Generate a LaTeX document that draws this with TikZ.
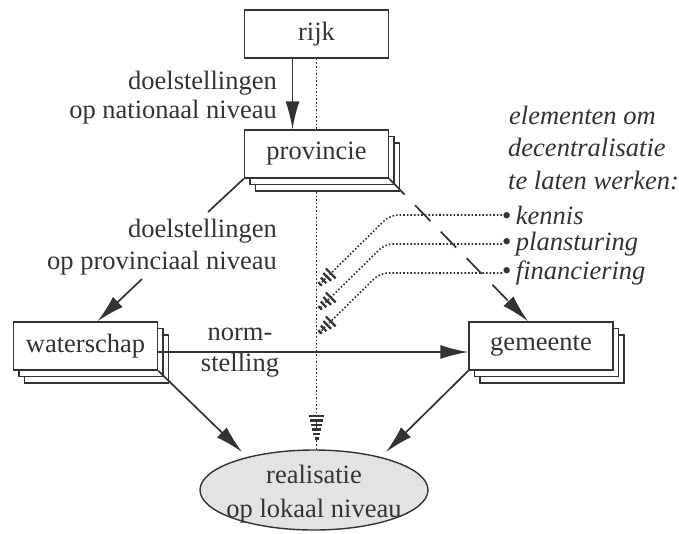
\documentclass[tikz,border=0pt]{standalone}
\usepackage{fontspec}
\setmainfont{Liberation Serif}
\usetikzlibrary{arrows.meta,calc,shadows,shapes.geometric,backgrounds}
\definecolor{ink}{HTML}{333333}
\newcommand\hatchhead[6]{%
  \foreach \k in {1,...,#3}{%
    \pgfmathsetmacro\hdist{#4*(\k-1)+1.5}%
    \pgfmathsetmacro\hwid{#5+#6*(\k-1)}%
    \path ($(#1)!\hdist pt!(#2)$) coordinate (hP);%
    \draw[hatch] ($(hP)!\hwid pt!90:(#2)$) -- ($(hP)!\hwid pt!-90:(#2)$);%
  }}
\begin{document}
\begin{tikzpicture}[x=1pt,y=-1pt,
  every node/.style={font=\fontsize{26.5}{30}\selectfont, text=ink, inner sep=0pt},
  box/.style={draw=ink, fill=white, line width=1.4pt, minimum width=144pt, minimum height=48pt},
  stack/.style={box,
    general shadow={draw=ink, fill=white, line width=1.4pt, shadow xshift=11pt, shadow yshift=-13pt},
    general shadow={draw=ink, fill=white, line width=1.4pt, shadow xshift=5.5pt, shadow yshift=-6.5pt}},
  conn/.style={draw=ink, line width=1.7pt},
  arr/.style={conn, -{Latex[length=28pt,width=14pt]}},
  dots/.style={draw=ink, line width=1.6pt, dotted},
  hatch/.style={draw=ink, line width=2.2pt},
  lbl/.style={align=right, anchor=east},
  itl/.style={anchor=west, font=\fontsize{26.5}{30}\selectfont\itshape},
]
\useasboundingbox (0,0) rectangle (679,533);

% boxes
\node[box] (rijk) at (316.5,34) {rijk};
\node[stack] (prov) at (316.5,154) {provincie};
\node[stack] (wat) at (85.5,346) {waterschap};
\node[stack] (gem) at (541,346) {gemeente};
\node[ellipse, draw=ink, fill=gray!22, line width=1.4pt, minimum width=228pt, minimum height=80pt] (real) at (314,490) {};
\node[align=center, font=\fontsize{26.5}{34}\selectfont] (realtxt) at (314,494) {realisatie\\op lokaal niveau};

% labels
\node[lbl, font=\fontsize{26.5}{29.5}\selectfont] (l1) at (277,97.5) {doelstellingen\\op nationaal niveau};
\node[lbl, font=\fontsize{26.5}{32}\selectfont] (l2) at (277,247) {doelstellingen\\op provinciaal niveau};
\node[align=center, font=\fontsize{26.5}{31}\selectfont] (l3) at (240,353) {norm-\\stelling};

% elements text
\node[itl, anchor=base west] (h1) at (509,124) {elementen om};
\node[itl, anchor=base west] (h2) at (508,156.5) {decentralisatie};
\node[itl, anchor=base west] (h3) at (508,189) {te laten werken:};
\node[itl] (kennis) at (502,215) {{\upshape•}\,kennis};
\node[itl] (plan) at (502,244) {{\upshape•}\,plansturing};
\node[itl] (fin) at (502,273) {{\upshape•}\,financiering};

% coordinates
\coordinate (c1) at (208,212);
\coordinate (c2) at (142,279);
\coordinate (rw) at (242,452);
\coordinate (rg) at (386,452);
\coordinate (kb) at (390,215);
\coordinate (pb) at (385,244);
\coordinate (fb) at (380,273);
\coordinate (kt) at (319,285);
\coordinate (pt) at (319,309);
\coordinate (ft) at (319,333);
\coordinate (vt) at (316.5,440);

% vertical dotted line behind boxes
\begin{scope}[on background layer]
\draw[dots] (rijk.south) -- (rijk.south |- real.north);
\end{scope}
\hatchhead{vt}{rijk.south}{6}{4.5}{2}{1.1}

% connectors
\draw[arr] ([xshift=-24pt]rijk.south) -- ([xshift=-24pt]prov.north);
\draw[conn] (prov.south west) -- (c1);
\draw[arr] (c2) -- ([xshift=12pt]wat.north);
\draw[arr, dash pattern=on 22pt off 15pt] (prov.south east) -- ([xshift=-13pt]gem.north);
\draw[arr] ([yshift=-6pt]wat.east) -- ([yshift=-6pt]gem.west);
\draw[arr] (wat.south east) -- (rw);
\draw[arr] (gem.south west) -- (rg);

% dotted element lines
\draw[dots, rounded corners=8pt] (kennis.west) -- (kb) -- (kt);
\draw[dots, rounded corners=8pt] (plan.west) -- (pb) -- (pt);
\draw[dots, rounded corners=8pt] (fin.west) -- (fb) -- (ft);
\hatchhead{kt}{kb}{4}{5}{2.5}{1.5}
\hatchhead{pt}{pb}{4}{5}{2.5}{1.5}
\hatchhead{ft}{fb}{4}{5}{2.5}{1.5}
\end{tikzpicture}
\end{document}
